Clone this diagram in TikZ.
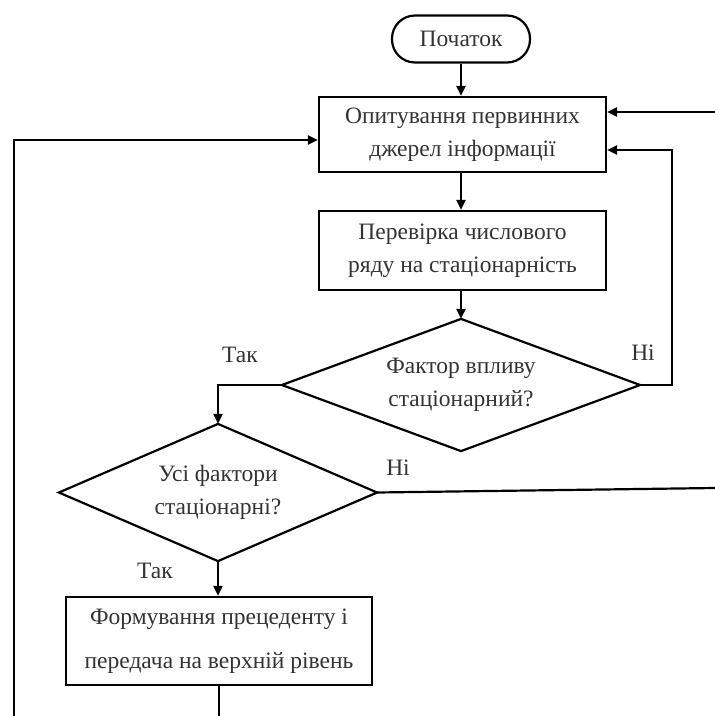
\documentclass[tikz,border=0pt]{standalone}
\usepackage{fontspec}
\setmainfont{Liberation Serif}
\newfontfamily\tnrfont{Liberation Serif}
\usetikzlibrary{shapes.geometric,arrows.meta}
\begin{document}
\begin{tikzpicture}[x=1pt,y=-1pt,
  line width=2.2pt,
  txt/.style={font=\tnrfont\fontsize{23.5}{33}\selectfont, align=center, text=black!80},
  procbox/.style={draw, rectangle, txt, inner sep=0pt},
  decis/.style={rectangle, txt, inner sep=0pt},
  term/.style={draw, rectangle, rounded corners=23pt, txt, inner sep=0pt},
  lbl/.style={font=\tnrfont\fontsize{23.5}{26}\selectfont, text=black!80, inner sep=1pt},
  arr/.style={-{Triangle[length=10pt,width=9pt]}}]
\useasboundingbox (0,0) rectangle (715,716);
\node[term, minimum width=138pt, minimum height=47pt] (start) at (461,39) {Початок};
\node[procbox, minimum width=287pt, minimum height=75pt] (b1) at (462.5,134.5) {Опитування первинних\\джерел інформації};
\node[procbox, minimum width=287pt, minimum height=79pt] (b2) at (462.5,250.5) {Перевірка числового\\ряду на стаціонарність};
\node[decis, minimum width=356pt, minimum height=130pt] (d1) at (461,385) {Фактор впливу\\стаціонарний?};
\draw (d1.north) -- (d1.east) -- (d1.south) -- (d1.west) -- cycle;
\node[decis, minimum width=316pt, minimum height=135pt] (d2) at (218,492.5) {Усі фактори\\стаціонарні?};
\draw (d2.north) -- (d2.east) -- (d2.south) -- (d2.west) -- cycle;
\node[procbox, minimum width=306pt, minimum height=88pt, font=\tnrfont\fontsize{23.5}{44}\selectfont] (b3) at (219,641) {Формування прецеденту і\\передача на верхній рівень};
\node[lbl] (t1) at (240,355) {Так};
\node[lbl] (n1) at (643,353) {Ні};
\node[lbl] (n2) at (398,468) {Ні};
\node[lbl] (t2) at (155,571) {Так};
\coordinate (rtop) at (715,112);
\coordinate (rmid) at (715,488);
\coordinate (lbot) at (14,716);
\coordinate (bbot) at (220,716);
\draw[arr] (start.south) -- (start.south |- b1.north);
\draw[arr] (start.south |- b1.south) -- (start.south |- b2.north);
\draw[arr] (b2.south -| d1.north) -- (d1.north);
\draw[arr] (rtop) -- (rtop -| b1.east);
\draw[arr] (d1.east) -- (672,385) -- (672,150) -- (b1.east |- 0,150);
\draw[arr] (lbot) -- (14,140) -- (b1.west |- 0,140);
\draw[arr] (d1.west) -- (d2.north |- d1.west) -- (d2.north);
\draw (d2.east) -- (rmid);
\draw[arr] (d2.south) -- (d2.south |- b3.north);
\draw (b3.south) -- (b3.south |- bbot);
\end{tikzpicture}
\end{document}
